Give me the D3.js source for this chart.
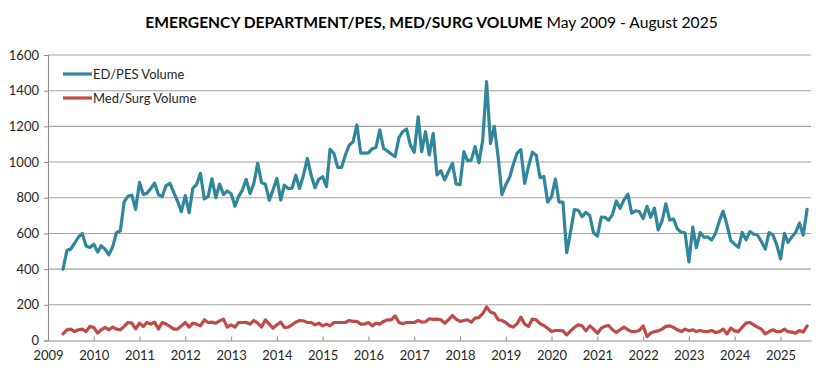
<!DOCTYPE html>
<html><head><meta charset="utf-8">
<script src="https://cdn.jsdelivr.net/npm/d3@7"></script>
<style>
body{margin:0;background:#fff}
svg{display:block}
text{font-family:Lato,"Open Sans",sans-serif}
</style>
</head><body>
<svg id="chart" width="831" height="368"></svg>
<script>
// ---- data ----
const firstMonth = {year: 2009, month: 4}; // May 2009 (0-based month)
const edPesVolume = [
  400, 505, 512, 545, 580, 600, 530, 521,
  540, 495, 531, 512, 480, 525, 604, 615, 778, 808, 815, 735,
  886, 818, 825, 852, 882, 818, 806, 868, 880, 830, 780, 722,
  812, 716, 852, 875, 937, 793, 806, 906, 800, 877, 818, 838,
  822, 752, 806, 843, 903, 824, 880, 993, 884, 877, 787, 843,
  908, 787, 871, 852, 852, 927, 852, 927, 1020, 927, 856, 903,
  918, 862, 1071, 1049, 970, 970, 1039, 1095, 1114, 1208, 1050, 1050,
  1052, 1075, 1082, 1180, 1077, 1062, 1045, 1030, 1137, 1170, 1185, 1095,
  1055, 1254, 1058, 1170, 1040, 1160, 928, 952, 900, 946, 993, 877,
  873, 1058, 1008, 1011, 1086, 996, 1123, 1451, 1104, 1200, 1030, 817,
  873, 915, 985, 1050, 1070, 880, 975, 1055, 1038, 914, 918, 776,
  806, 905, 776, 776, 492, 610, 733, 730, 694, 718, 700, 604,
  585, 692, 690, 674, 706, 782, 741, 788, 820, 714, 727, 723,
  684, 752, 690, 742, 620, 670, 766, 675, 680, 625, 607, 603,
  440, 635, 520, 605, 578, 580, 563, 600, 670, 725, 648, 560,
  540, 522, 606, 564, 610, 596, 591, 555, 512, 605, 592, 537,
  457, 600, 550, 580, 605, 658, 590, 735
];
const medSurgVolume = [
  37, 60, 64, 50, 60, 64, 50, 79,
  73, 41, 60, 73, 60, 75, 64, 60, 79, 101, 97, 65,
  97, 79, 101, 92, 103, 64, 101, 92, 79, 64, 64, 82,
  101, 75, 97, 92, 82, 116, 101, 103, 97, 110, 120, 75,
  88, 75, 101, 101, 101, 92, 112, 97, 75, 116, 92, 69,
  88, 103, 73, 75, 88, 103, 112, 110, 101, 101, 88, 97,
  82, 92, 82, 101, 101, 101, 101, 112, 107, 107, 92, 92,
  101, 82, 97, 92, 107, 116, 116, 138, 101, 94, 101, 101,
  101, 112, 103, 105, 122, 118, 120, 116, 97, 116, 140, 120,
  107, 112, 116, 103, 125, 129, 150, 188, 159, 153, 116, 112,
  101, 82, 75, 94, 131, 92, 79, 120, 116, 94, 84, 69,
  50, 56, 56, 54, 32, 54, 73, 88, 82, 54, 82, 64,
  41, 69, 79, 84, 60, 45, 60, 75, 60, 50, 50, 56,
  82, 22, 41, 50, 54, 64, 79, 82, 73, 60, 50, 64,
  54, 60, 50, 56, 50, 50, 56, 45, 50, 64, 37, 69,
  54, 50, 75, 97, 101, 88, 75, 64, 37, 50, 60, 50,
  50, 64, 50, 47, 41, 56, 47, 82
];
const seriesNames = ["ED/PES Volume", "Med/Surg Volume"];
const yearTickLabels = [2009,2010,2011,2012,2013,2014,2015,2016,2017,2018,2019,2020,2021,2022,2023,2024,2025];
const yTickValues = [0,200,400,600,800,1000,1200,1400,1600];
const titleBold = "EMERGENCY DEPARTMENT/PES, MED/SURG VOLUME";
const titleRest = " May 2009 - August 2025";

// ---- layout ----
const W = 831, H = 368;
const M = {left: 48, right: 20, top: 55, bottom: 27.5};
const colors = ["#31869B", "#BE4B48"];
const svg = d3.select("#chart");

const dates = edPesVolume.map((_, i) => new Date(firstMonth.year, firstMonth.month + i, 1));
const x = d3.scaleTime()
  .domain([new Date(2009, 0, 1), new Date(2025, 8, 1)])
  .range([M.left, W - M.right]);
const y = d3.scaleLinear().domain([0, 1600]).range([H - M.bottom, M.top]);

// gridlines
svg.append("g").selectAll("line").data(yTickValues.filter(v => v > 0)).join("line")
  .attr("x1", M.left).attr("x2", W - M.right)
  .attr("y1", d => y(d)).attr("y2", d => y(d))
  .attr("stroke", "#a3a3a3").attr("stroke-width", 1.1);

// y axis
const yAxis = svg.append("g").attr("transform", `translate(${M.left},0)`)
  .call(d3.axisLeft(y).tickValues(yTickValues).tickSize(4).tickPadding(5).tickFormat(d3.format("d")));
yAxis.select(".domain").attr("stroke", "#8c8c8c").attr("stroke-width", 1.1);
yAxis.selectAll(".tick line").attr("stroke", "#8c8c8c");
yAxis.selectAll("text").attr("font-size", 13).attr("fill", "#262626")
  .attr("font-family", "Lato, 'Open Sans', sans-serif");

// x axis
const xAxis = svg.append("g").attr("transform", `translate(0,${H - M.bottom})`)
  .call(d3.axisBottom(x)
    .tickValues(yearTickLabels.map(yr => new Date(yr, 0, 1)))
    .tickSizeInner(-4).tickSizeOuter(0).tickPadding(10)
    .tickFormat(d3.timeFormat("%Y")));
xAxis.select(".domain").attr("stroke", "#8c8c8c").attr("stroke-width", 1.1);
xAxis.selectAll(".tick line").attr("stroke", "#8c8c8c");
xAxis.selectAll("text").attr("font-size", 13).attr("fill", "#262626")
  .attr("font-family", "Lato, 'Open Sans', sans-serif");

// lines
const line = d3.line().x((d, i) => x(dates[i])).y(d => y(d));
[edPesVolume, medSurgVolume].forEach((s, k) => {
  svg.append("path").datum(s)
    .attr("d", line)
    .attr("fill", "none")
    .attr("stroke", colors[k])
    .attr("stroke-width", 3.2)
    .attr("stroke-linejoin", "round")
    .attr("stroke-linecap", "round");
});

// legend
const lg = svg.append("g");
seriesNames.forEach((name, k) => {
  const yy = 74 + k * 24;
  lg.append("line").attr("x1", 63).attr("x2", 92).attr("y1", yy).attr("y2", yy)
    .attr("stroke", colors[k]).attr("stroke-width", 3.2);
  lg.append("text").attr("x", 93).attr("y", yy + 4.5)
    .attr("font-size", 13).attr("fill", "#262626").text(name);
});

// title
const title = svg.append("text").attr("x", 431.5).attr("y", 28)
  .attr("text-anchor", "middle").attr("font-size", 16).attr("fill", "#000");
title.append("tspan").attr("font-weight", "bold").text(titleBold);
title.append("tspan").attr("font-weight", "normal").text(titleRest);
const tw = title.node().getComputedTextLength();
const target = 573;
title.attr("font-size", 16 * target / tw);
</script>
</body></html>
